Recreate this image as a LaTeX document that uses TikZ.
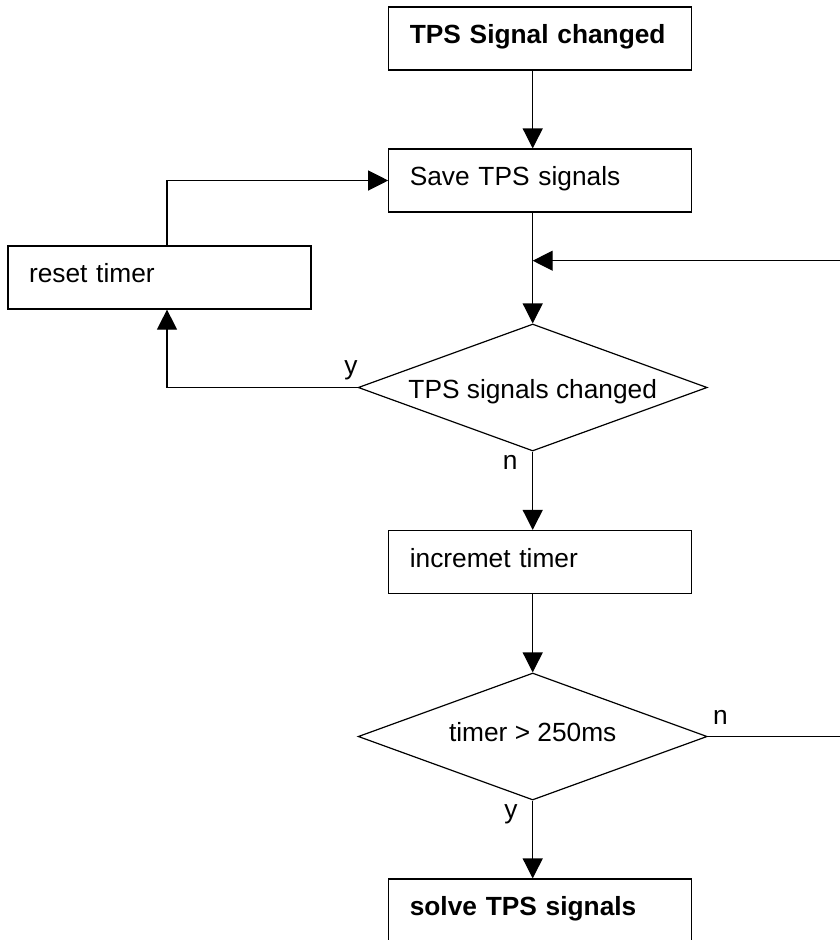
\documentclass[tikz,border=0pt]{standalone}
\usepackage{fontspec}
\setmainfont{Liberation Sans}
\usetikzlibrary{arrows.meta,shapes.geometric,positioning}

\tikzset{
    box/.style={draw, rectangle, line width=1.2pt, minimum width=303pt, minimum height=63pt,
        text width=261pt, inner xsep=21pt, align=left, text height=20pt, text depth=10pt,
        font=\fontsize{26.3}{31}\selectfont},
    decision/.style={draw, diamond, aspect=2.75, line width=1.2pt, minimum width=349pt,
        minimum height=127pt, inner sep=0pt, font=\fontsize{26.3}{31}\selectfont},
    lbl/.style={inner sep=0pt, font=\fontsize{26.3}{31}\selectfont},
    arr/.style={line width=1.2pt, -{Triangle[length=20pt,width=20pt]}}
}

\begin{document}
\begin{tikzpicture}[x=1pt, y=-1pt]
    \useasboundingbox (0,0) rectangle (839,940);

    % 方框与判断
    \node[box] (start) at (540.3,38.5) {\bfseries TPS Signal changed};
    \node[box] (save) at (540.3,180.5) {Save TPS signals};
    \node[box] (reset) at (159.5,277.5) {reset timer};
    \node[decision, text height=22pt, text depth=0pt] (dec1) at (532.7,387.5) {TPS signals changed};
    \node[box] (incr) at (540.3,562) {incremet timer};
    \node[decision, text height=20pt, text depth=10pt] (dec2) at (532.7,736.5) {timer > 250ms};
    \node[box] (solve) at (540.3,910.5) {\bfseries solve TPS signals};

    % 辅助点
    \coordinate (rx) at (167,0);
    \coordinate (edge) at (843,260.7);

    % 主线
    \draw[arr] (start.south -| dec1.north) -- (save.north -| dec1.north);
    \draw[arr] (save.south -| dec1.north) -- (dec1.north);
    \draw[arr] (dec1.south) -- (incr.north -| dec1.south);
    \draw[arr] (incr.south -| dec2.north) -- (dec2.north);
    \draw[arr] (dec2.south) -- (solve.north -| dec2.south);

    % 回路
    \draw[arr] (dec1.west) -| (rx |- reset.south);
    \draw[arr] (rx |- reset.north) |- (save.west);
    \draw[arr] (dec2.east) -- (dec2.east -| edge) -- (edge) -- (edge -| dec1.north);

    % 分支标记
    \node[lbl, above left=7pt and 0pt of dec1.west] (y1) {y};
    \node[lbl, below left=4pt and 15pt of dec1.south] (n1) {n};
    \node[lbl, above right=12pt and 5pt of dec2.east] (n2) {n};
    \node[lbl, below left=4pt and 15pt of dec2.south] (y2) {y};
\end{tikzpicture}
\end{document}
